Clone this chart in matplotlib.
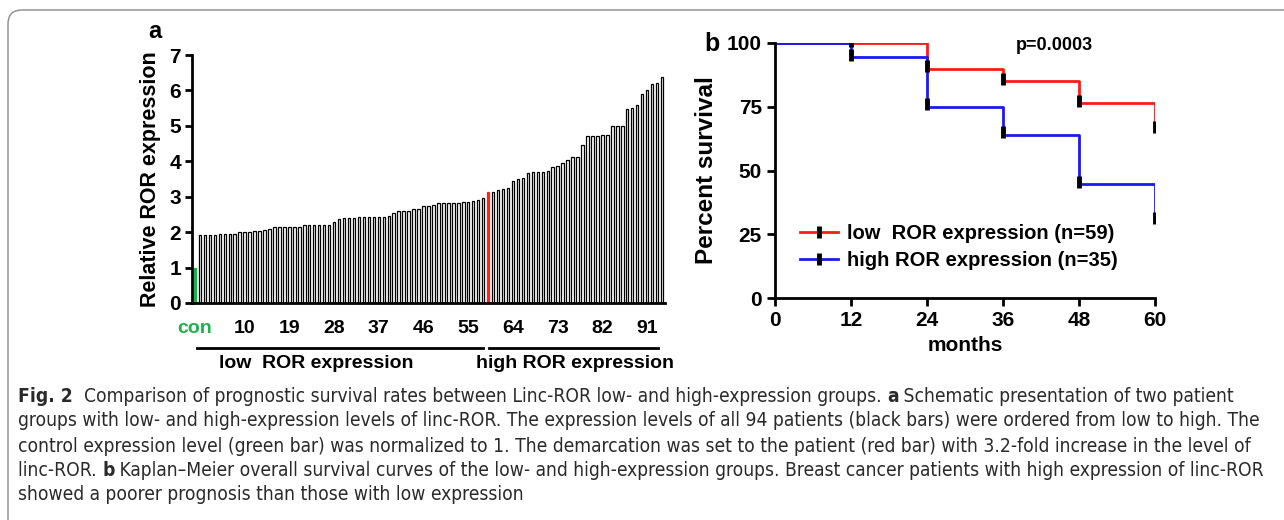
"""
Fig. 2 - Linc-ROR expression groups and Kaplan-Meier survival
"""
import matplotlib
matplotlib.use('Agg')
import matplotlib.pyplot as plt
from matplotlib.lines import Line2D
from matplotlib.patches import FancyBboxPatch
from matplotlib.transforms import IdentityTransform, blended_transform_factory

# ---- data: panel a (relative ROR expression, sorted) ----
con_value = 1.0
patient_expr = [
    1.92, 1.92, 1.92, 1.92, 1.96, 1.96, 1.96, 1.96, 1.99, 1.99,
    1.99, 2.02, 2.02, 2.05, 2.09, 2.15, 2.15, 2.15, 2.15, 2.15,
    2.15, 2.21, 2.21, 2.21, 2.21, 2.21, 2.21, 2.29, 2.36, 2.41,
    2.41, 2.41, 2.44, 2.44, 2.44, 2.44, 2.44, 2.44, 2.46, 2.53,
    2.60, 2.60, 2.61, 2.66, 2.66, 2.73, 2.73, 2.76, 2.81, 2.81,
    2.81, 2.83, 2.83, 2.86, 2.86, 2.89, 2.91, 2.95, 3.13, 3.14,
    3.19, 3.21, 3.26, 3.45, 3.50, 3.54, 3.67, 3.70, 3.70, 3.70,
    3.73, 3.83, 3.86, 3.94, 4.03, 4.12, 4.12, 4.47, 4.70, 4.70,
    4.72, 4.75, 4.75, 4.99, 4.99, 5.00, 5.48, 5.51, 5.58, 5.90,
    6.00, 6.19, 6.21, 6.37,
]
red_patient = 59
xtick_pos = [0, 10, 19, 28, 37, 46, 55, 64, 73, 82, 91]
xtick_labels = ['con', '10', '19', '28', '37', '46', '55', '64', '73', '82', '91']

# ---- data: panel b (Kaplan-Meier) ----
months = [0, 12, 24, 36, 48, 60]
low_surv = [100, 100, 89.8, 85.0, 76.5, 67.1]
high_surv = [100, 94.4, 75.0, 63.9, 44.6, 31.4]
low_censor = [100.8, 90.8, 85.9, 77.4, 67.0]
high_censor = [95.4, 76.0, 65.0, 45.5, 31.4]
censor_months = [12, 24, 36, 48, 60]

plt.rcParams['font.family'] = ['Liberation Sans', 'DejaVu Sans']
plt.rcParams['font.weight'] = 'bold'

fig = plt.figure(figsize=(12.84, 5.2), dpi=100)

# outer rounded frame
frame = FancyBboxPatch((8, -40), 1320, 550, boxstyle='round,pad=0,rounding_size=14',
                       transform=IdentityTransform(), fill=False, edgecolor='#8a8a8a', lw=1.0)
fig.patches.append(frame)

# ================= panel a =================
ax1 = fig.add_axes([192 / 1284, 1 - 303 / 520, 473 / 1284, 248 / 520])
values = [con_value] + patient_expr
xs = list(range(len(values)))
face = ['#1db04b'] + ['white'] * len(patient_expr)
edge = ['#1db04b'] + ['black'] * len(patient_expr)
face[red_patient] = '#ff2020'
edge[red_patient] = '#ff2020'
ax1.bar(xs, values, width=0.5, color=face, edgecolor=edge, linewidth=0.9)
ax1.set_xlim(-0.6, 94.6)
ax1.set_ylim(0, 7)
ax1.set_yticks(range(0, 8))
ax1.set_xticks(xtick_pos)
ax1.set_xticklabels(xtick_labels, fontsize=14, fontweight='bold')
ax1.get_xticklabels()[0].set_color('#1db04b')
ax1.tick_params(axis='x', length=0, pad=12)
ax1.tick_params(axis='y', labelsize=15, width=2, length=5, direction='out', pad=3)
for s in ['top', 'right']:
    ax1.spines[s].set_visible(False)
for s in ['left', 'bottom']:
    ax1.spines[s].set_linewidth(2)
ax1.set_ylabel('Relative ROR expression', fontsize=15.5, fontweight='bold', labelpad=6)

trans = blended_transform_factory(ax1.transData, ax1.transAxes)
ax1.plot([0.5, 58.0], [-0.181, -0.181], color='black', lw=2, transform=trans, clip_on=False)
ax1.plot([59.2, 93.2], [-0.181, -0.181], color='black', lw=2, transform=trans, clip_on=False)
ax1.text(24.5, -0.245, 'low  ROR expression', transform=trans, ha='center', va='center',
         fontsize=14, fontweight='bold')
ax1.text(76.5, -0.245, 'high ROR expression', transform=trans, ha='center', va='center',
         fontsize=14, fontweight='bold')
fig.text(155 / 1284, 1 - 32 / 520, 'a', fontsize=17, fontweight='bold', ha='center', va='center')

# ================= panel b =================
ax2 = fig.add_axes([775 / 1284, 1 - 298 / 520, 380 / 1284, 255 / 520])
ax2.step(months, low_surv, where='post', color='#ff1a1a', lw=2)
ax2.step(months, high_surv, where='post', color='#1a1aee', lw=2)
ax2.plot(censor_months, low_censor, ls='none', marker='|', color='black', ms=9, mew=3.5)
ax2.plot(censor_months, high_censor, ls='none', marker='|', color='black', ms=9, mew=3.5)
ax2.set_xlim(0, 60)
ax2.set_ylim(0, 100)
ax2.set_xticks(months)
ax2.set_yticks([0, 25, 50, 75, 100])
ax2.tick_params(labelsize=15, width=2, length=6, direction='out')
for s in ['top', 'right']:
    ax2.spines[s].set_visible(False)
for s in ['left', 'bottom']:
    ax2.spines[s].set_linewidth(2)
ax2.set_xlabel('months', fontsize=15, fontweight='bold', labelpad=4)
ax2.set_ylabel('Percent survival', fontsize=17.5, fontweight='bold', labelpad=6)
ax2.text(0.735, 0.99, 'p=0.0003', transform=ax2.transAxes, ha='center', va='center',
         fontsize=13, fontweight='bold')

handles = [
    Line2D([], [], color='#ff1a1a', lw=2, marker='|', mec='black', ms=9, mew=3.5),
    Line2D([], [], color='#1a1aee', lw=2, marker='|', mec='black', ms=9, mew=3.5),
]
ax2.legend(handles, ['low  ROR expression (n=59)', 'high ROR expression (n=35)'],
           loc='upper left', bbox_to_anchor=(0.065, 0.29), frameon=False, numpoints=1,
           prop={'size': 14.5, 'weight': 'bold'}, handlelength=1.9, handletextpad=0.45,
           labelspacing=0.4, borderpad=0, borderaxespad=0)
fig.text(712 / 1284, 1 - 44 / 520, 'b', fontsize=18, fontweight='bold', ha='center', va='center')

# ================= caption =================
cap_font = ['DejaVu Sans']
caption_lines = [
    [('Fig. 2', True), ('  Comparison of prognostic survival rates between Linc-ROR low- and '
                        'high-expression groups. ', False), ('a', True),
     (' Schematic presentation of two patient', False)],
    [('groups with low- and high-expression levels of linc-ROR. The expression levels of all 94 '
      'patients (black bars) were ordered from low to high. The', False)],
    [('control expression level (green bar) was normalized to 1. The demarcation was set to the '
      'patient (red bar) with 3.2-fold increase in the level of', False)],
    [('linc-ROR. ', False), ('b', True),
     (' Kaplan\u2013Meier overall survival curves of the low- and high-expression groups. Breast '
      'cancer patients with high expression of linc-ROR', False)],
    [('showed a poorer prognosis than those with low expression', False)],
]
line_y = [397, 421, 446, 470, 494]

renderer = fig.canvas.get_renderer()
# fit font size so that line 2 spans about the same width as in the reference
probe = fig.text(0, 0, caption_lines[1][0][0], fontsize=12, family=cap_font,
                 fontstretch='condensed', fontweight='normal')
w = probe.get_window_extent(renderer).width
probe.remove()
cap_size = 12 * 1240 / w

for segs, ypx in zip(caption_lines, line_y):
    xpx = 18
    for txt, bold in segs:
        t = fig.text(xpx / 1284, 1 - ypx / 520, txt, fontsize=cap_size, family=cap_font,
                     fontstretch='condensed', fontweight='bold' if bold else 'normal',
                     color='#2a2a2a', ha='left', va='center')
        xpx += t.get_window_extent(renderer).width

fig.savefig('out.png', dpi=100)
